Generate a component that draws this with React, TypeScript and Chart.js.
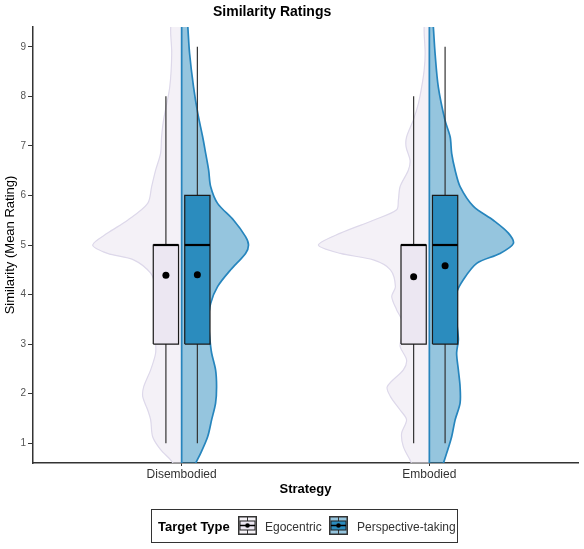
import React, { useEffect, useRef } from 'react';
import { Chart, registerables } from 'chart.js';

Chart.register(...registerables);

const FONT = '"Liberation Sans", Arial, Helvetica, sans-serif';

const categories = ['Disembodied', 'Embodied'];
const groups = ['Egocentric', 'Perspective-taking'];
const yTicks = [1, 2, 3, 4, 5, 6, 7, 8, 9];

// Half-violin density profiles: rating level and half-width (x units)
const disEgoY = [9.5, 9.4, 8.87, 8.19, 7.52, 7.18, 6.85, 6.51, 6.18, 5.84, 5.5, 5.24, 5.0, 4.83, 4.7, 4.43, 4.16, 3.82, 3.49, 3.15, 2.82, 2.48, 2.14, 1.94, 1.67, 1.47, 1.13, 0.87, 0.66, 0.5];
const disEgoW = [0.03, 0.044, 0.04, 0.048, 0.073, 0.081, 0.085, 0.105, 0.121, 0.137, 0.218, 0.299, 0.359, 0.299, 0.194, 0.125, 0.105, 0.097, 0.093, 0.105, 0.105, 0.125, 0.153, 0.157, 0.137, 0.125, 0.117, 0.085, 0.044, 0.02];

const disPerY = [9.6, 9.4, 8.87, 8.19, 7.66, 7.18, 6.85, 6.51, 6.18, 5.84, 5.5, 5.17, 5.0, 4.83, 4.5, 4.16, 3.82, 3.49, 3.15, 2.82, 2.48, 2.14, 1.81, 1.47, 1.13, 0.8, 0.6, 0.5];
const disPerW = [0.022, 0.025, 0.032, 0.048, 0.065, 0.085, 0.097, 0.109, 0.117, 0.145, 0.21, 0.258, 0.27, 0.258, 0.198, 0.145, 0.117, 0.109, 0.113, 0.121, 0.137, 0.141, 0.137, 0.121, 0.105, 0.077, 0.057, 0.048];

const embEgoY = [9.5, 9.4, 8.87, 8.53, 8.19, 7.86, 7.52, 7.18, 6.98, 6.71, 6.51, 6.18, 5.91, 5.71, 5.5, 5.24, 5.0, 4.83, 4.7, 4.5, 4.16, 3.96, 3.69, 3.49, 3.15, 2.95, 2.68, 2.48, 2.14, 1.94, 1.67, 1.47, 1.2, 0.93, 0.66, 0.5];
const embEgoW = [0.01, 0.021, 0.017, 0.021, 0.031, 0.044, 0.065, 0.092, 0.094, 0.078, 0.085, 0.118, 0.125, 0.132, 0.226, 0.359, 0.448, 0.359, 0.226, 0.157, 0.137, 0.152, 0.132, 0.112, 0.112, 0.118, 0.092, 0.105, 0.17, 0.157, 0.118, 0.092, 0.112, 0.105, 0.078, 0.06];

const embPerY = [9.6, 9.4, 8.87, 8.19, 7.52, 7.18, 6.85, 6.51, 6.18, 5.78, 5.5, 5.24, 5.03, 4.83, 4.63, 4.3, 4.03, 3.49, 3.09, 2.82, 2.48, 2.14, 1.81, 1.47, 1.13, 0.8, 0.6, 0.5];
const embPerW = [0.012, 0.016, 0.023, 0.036, 0.063, 0.084, 0.09, 0.104, 0.124, 0.178, 0.258, 0.319, 0.339, 0.285, 0.191, 0.137, 0.11, 0.11, 0.117, 0.11, 0.117, 0.124, 0.124, 0.104, 0.09, 0.07, 0.057, 0.05];

// Box-plot statistics per category (Disembodied, Embodied)
const egoMin = [1, 1];
const egoQ1 = [3, 3];
const egoMed = [5, 5];
const egoQ3 = [5, 5];
const egoMax = [8, 8];
const egoMean = [4.39, 4.36];

const perMin = [1, 1];
const perQ1 = [3, 3];
const perMed = [5, 5];
const perQ3 = [6, 6];
const perMax = [9, 9];
const perMean = [4.4, 4.58];

const DODGE = 0.0635;
const BOX_HALF = 0.051;
const EDGE_EPS = 0.02;

const VIOLIN_FILL = ['rgba(236,231,242,0.6)', 'rgba(43,140,190,0.5)'];
const VIOLIN_LINE = ['#ddd8ea', '#2685bd'];
const BOX_FILL = ['#ece7f2', '#2b8cbe'];

function halfViolin(center: number, ys: number[], ws: number[], side: number) {
  const first = ys[0];
  const last = ys[ys.length - 1];
  const pts: { x: number; y: number }[] = [{ x: center, y: first }];
  ys.forEach((y, i) => pts.push({ x: center + side * ws[i], y }));
  // straight flat side of the half violin (extra points keep it straight under tension)
  pts.push({ x: center, y: last });
  pts.push({ x: center, y: last + EDGE_EPS });
  pts.push({ x: center, y: first - EDGE_EPS });
  pts.push({ x: center, y: first });
  return pts;
}

function buildDatasets() {
  const ds: any[] = [];
  const violins = [
    { ys: disEgoY, ws: disEgoW, cat: 0, g: 0 },
    { ys: embEgoY, ws: embEgoW, cat: 1, g: 0 },
    { ys: disPerY, ws: disPerW, cat: 0, g: 1 },
    { ys: embPerY, ws: embPerW, cat: 1, g: 1 },
  ];
  violins.forEach((v) => {
    ds.push({
      label: groups[v.g] + ' violin',
      data: halfViolin(v.cat + 1, v.ys, v.ws, v.g === 0 ? -1 : 1),
      showLine: true,
      fill: 'shape',
      backgroundColor: VIOLIN_FILL[v.g],
      borderColor: VIOLIN_LINE[v.g],
      borderWidth: v.g === 0 ? 1.2 : 1.7,
      pointRadius: 0,
      tension: 0.3,
      capBezierPoints: false,
      order: v.g === 0 ? 60 : 50,
    });
  });
  const stats = [
    { min: egoMin, q1: egoQ1, med: egoMed, q3: egoQ3, max: egoMax, side: -1 },
    { min: perMin, q1: perQ1, med: perMed, q3: perQ3, max: perMax, side: 1 },
  ];
  stats.forEach((s, g) => {
    categories.forEach((_, c) => {
      const cx = c + 1 + s.side * DODGE;
      const x0 = cx - BOX_HALF;
      const x1 = cx + BOX_HALF;
      ds.push({
        label: 'whisker',
        data: [{ x: cx, y: s.min[c] }, { x: cx, y: s.max[c] }],
        showLine: true,
        fill: false,
        borderColor: '#333',
        borderWidth: 1.2,
        pointRadius: 0,
        order: 30,
      });
      ds.push({
        label: 'box',
        data: [
          { x: x0, y: s.q1[c] },
          { x: x1, y: s.q1[c] },
          { x: x1, y: s.q3[c] },
          { x: x0, y: s.q3[c] },
          { x: x0, y: s.q1[c] },
        ],
        showLine: true,
        fill: 'shape',
        backgroundColor: BOX_FILL[g],
        borderColor: '#1a1a1a',
        borderWidth: 1.2,
        pointRadius: 0,
        tension: 0,
        order: 20,
      });
      ds.push({
        label: 'median',
        data: [{ x: x0, y: s.med[c] }, { x: x1, y: s.med[c] }],
        showLine: true,
        fill: false,
        borderColor: '#000',
        borderWidth: 2.2,
        pointRadius: 0,
        order: 10,
      });
    });
  });
  const means: { x: number; y: number }[] = [];
  categories.forEach((_, c) => {
    means.push({ x: c + 1 - DODGE, y: egoMean[c] });
    means.push({ x: c + 1 + DODGE, y: perMean[c] });
  });
  ds.push({
    label: 'mean',
    data: means,
    showLine: false,
    pointRadius: 3.5,
    pointBackgroundColor: '#000',
    pointBorderWidth: 0,
    order: 0,
  });
  return ds;
}

function LegendIcon({ g }: { g: number }) {
  return (
    <svg width={19} height={19} style={{ position: 'absolute', left: g === 0 ? 238 : 329, top: 516 }}>
      <rect x={0.75} y={0.75} width={17.5} height={17.5} fill={g === 0 ? '#f6f3f8' : '#95c5de'} stroke="#333" strokeWidth={1.5} />
      <line x1={9.5} y1={1} x2={9.5} y2={18} stroke="#333" strokeWidth={1} />
      <rect x={2} y={5} width={15} height={9} fill={BOX_FILL[g]} stroke="#222" strokeWidth={1} />
      <line x1={2} y1={9.5} x2={17} y2={9.5} stroke="#000" strokeWidth={1.5} />
      <circle cx={9.5} cy={9.5} r={2.3} fill="#000" />
    </svg>
  );
}

export default function App() {
  const ref = useRef<HTMLCanvasElement | null>(null);
  useEffect(() => {
    if (!ref.current) return;
    const chart = new Chart(ref.current, {
      type: 'scatter',
      data: { datasets: buildDatasets() },
      options: {
        responsive: false,
        animation: false,
        events: [],
        layout: { padding: { top: 27, right: 6, bottom: 49, left: 0 } },
        plugins: {
          legend: { display: false },
          tooltip: { enabled: false },
          title: { display: false },
        },
        scales: {
          x: {
            type: 'linear',
            min: 0.4,
            max: 2.6,
            afterBuildTicks: (s: any) => {
              s.ticks = categories.map((_, i) => ({ value: i + 1 }));
            },
            afterFit: (s: any) => {
              s.height = 37;
            },
            ticks: {
              callback: (v: any) => categories[Math.round(v) - 1] ?? '',
              font: { family: FONT, size: 12 },
              color: '#333',
              padding: 1,
              maxRotation: 0,
              autoSkip: false,
            },
            grid: { display: true, drawOnChartArea: false, drawTicks: true, tickLength: 3, tickColor: '#333', tickWidth: 1 },
            border: { display: true, color: '#333', width: 1.5 },
            title: {
              display: true,
              text: 'Strategy',
              font: { family: FONT, size: 13, weight: 'bold' },
              color: '#000',
              padding: { top: 0, bottom: 3 },
            },
          },
          y: {
            type: 'linear',
            min: 0.6,
            max: 9.4,
            afterBuildTicks: (s: any) => {
              s.ticks = yTicks.map((v) => ({ value: v }));
            },
            afterFit: (s: any) => {
              s.width = 33;
            },
            ticks: {
              callback: (v: any) => String(v),
              font: { family: FONT, size: 10 },
              color: '#555',
              padding: 2,
            },
            grid: { display: true, drawOnChartArea: false, drawTicks: true, tickLength: 5, tickColor: '#333', tickWidth: 1 },
            border: { display: true, color: '#333', width: 1.5 },
            title: {
              display: true,
              text: 'Similarity (Mean Rating)',
              font: { family: FONT, size: 13 },
              color: '#000',
              padding: { top: 3, bottom: 0 },
            },
          },
        },
      } as any,
    });
    return () => chart.destroy();
  }, []);

  const textBase: React.CSSProperties = {
    position: 'absolute',
    fontFamily: FONT,
    whiteSpace: 'nowrap',
    height: 16,
    lineHeight: '16px',
    top: 519,
  };

  return (
    <div style={{ position: 'fixed', left: 0, top: 0, width: 584, height: 549, background: '#fff' }}>
      <canvas ref={ref} width={584} height={549} style={{ display: 'block' }} />
      <div
        style={{
          position: 'absolute',
          left: 213,
          top: 4,
          fontFamily: FONT,
          fontWeight: 'bold',
          fontSize: 14,
          lineHeight: '14px',
          whiteSpace: 'nowrap',
          color: '#000',
        }}
      >
        Similarity Ratings
      </div>
      <div
        style={{
          position: 'absolute',
          left: 151,
          top: 509,
          width: 307,
          height: 34,
          boxSizing: 'border-box',
          border: '1.5px solid #333',
        }}
      />
      <div style={{ ...textBase, left: 158, fontSize: 13, fontWeight: 'bold', color: '#000' }}>Target Type</div>
      <LegendIcon g={0} />
      <div style={{ ...textBase, left: 265, fontSize: 12, color: '#333' }}>{groups[0]}</div>
      <LegendIcon g={1} />
      <div style={{ ...textBase, left: 357, fontSize: 12, color: '#333' }}>{groups[1]}</div>
    </div>
  );
}
